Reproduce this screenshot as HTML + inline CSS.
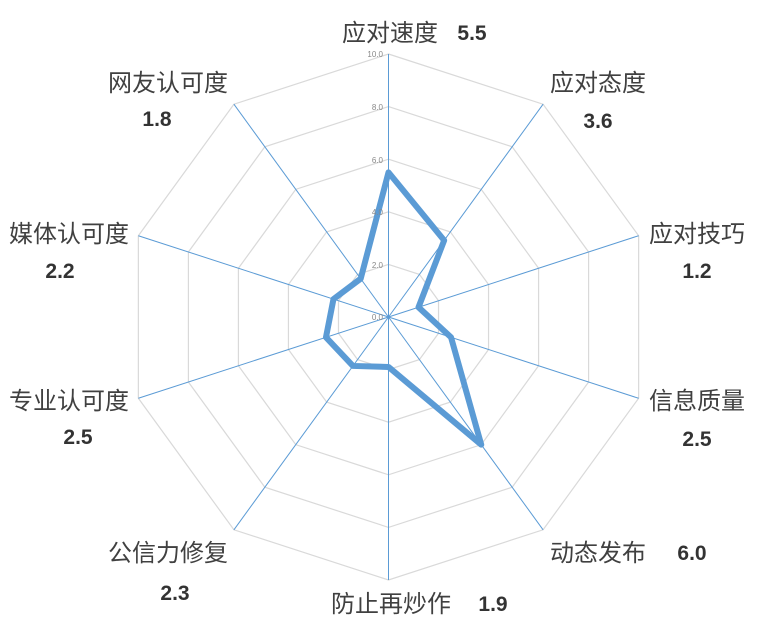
<!DOCTYPE html>
<html><head><meta charset="utf-8"><style>
html,body{margin:0;padding:0;background:#fff;width:761px;height:626px;overflow:hidden}
svg text{font-family:"Liberation Sans","Noto Sans CJK SC",sans-serif}
.l{font-size:24px;fill:#404040}
.v{font-size:21px;font-weight:bold;fill:#333}
.t{font-size:8px;fill:#888}
</style></head><body>
<svg id="s" width="761" height="626" viewBox="0 0 761 626" xmlns="http://www.w3.org/2000/svg">
<g id="g"></g>
<text class="t" x="383" y="57" text-anchor="end">10.0</text>
<text class="t" x="383" y="110" text-anchor="end">8.0</text>
<text class="t" x="383" y="163" text-anchor="end">6.0</text>
<text class="t" x="383" y="215" text-anchor="end">4.0</text>
<text class="t" x="383" y="268" text-anchor="end">2.0</text>
<text class="t" x="383" y="320" text-anchor="end">0.0</text>
<text class="l" x="390" y="41" text-anchor="middle">应对速度</text>
<text class="v" x="472" y="40" text-anchor="middle">5.5</text>
<text class="l" x="168" y="91" text-anchor="middle">网友认可度</text>
<text class="v" x="157" y="126" text-anchor="middle">1.8</text>
<text class="l" x="598" y="91" text-anchor="middle">应对态度</text>
<text class="v" x="598" y="128" text-anchor="middle">3.6</text>
<text class="l" x="69" y="242" text-anchor="middle">媒体认可度</text>
<text class="v" x="60" y="278" text-anchor="middle">2.2</text>
<text class="l" x="697" y="242" text-anchor="middle">应对技巧</text>
<text class="v" x="697" y="278" text-anchor="middle">1.2</text>
<text class="l" x="69" y="409" text-anchor="middle">专业认可度</text>
<text class="v" x="78" y="444" text-anchor="middle">2.5</text>
<text class="l" x="697" y="409" text-anchor="middle">信息质量</text>
<text class="v" x="697" y="446" text-anchor="middle">2.5</text>
<text class="l" x="168" y="561" text-anchor="middle">公信力修复</text>
<text class="v" x="175" y="600" text-anchor="middle">2.3</text>
<text class="l" x="598" y="561" text-anchor="middle">动态发布</text>
<text class="v" x="692" y="560" text-anchor="middle">6.0</text>
<text class="l" x="391" y="612" text-anchor="middle">防止再炒作</text>
<text class="v" x="493" y="611" text-anchor="middle">1.9</text>
</svg>
<script>
var cx=388.5,cy=317,R=263,NS="http://www.w3.org/2000/svg",g=document.getElementById('g');
function pt(i,r){var a=i*Math.PI/5;return [cx+r*Math.sin(a),cy-r*Math.cos(a)];}
function el(n,at){var e=document.createElementNS(NS,n);for(var k in at)e.setAttribute(k,at[k]);g.appendChild(e);return e;}
for(var k=1;k<=5;k++){var p=[];for(var i=0;i<10;i++)p.push(pt(i,R*k/5).join(','));el('polygon',{points:p.join(' '),fill:'none',stroke:'#d9d9d9','stroke-width':1.2});}
for(var i=0;i<10;i++){var q=pt(i,R);el('line',{x1:cx,y1:cy,x2:q[0],y2:q[1],stroke:'#5b9bd5','stroke-width':1});}
var d=[5.5,3.6,1.2,2.5,6.0,1.9,2.3,2.5,2.2,1.8],p=[];
for(var i=0;i<10;i++)p.push(pt(i,R*d[i]/10).join(','));
el('polygon',{points:p.join(' '),fill:'none',stroke:'#5b9bd5','stroke-width':6,'stroke-linejoin':'round'});
</script>
</body></html>
